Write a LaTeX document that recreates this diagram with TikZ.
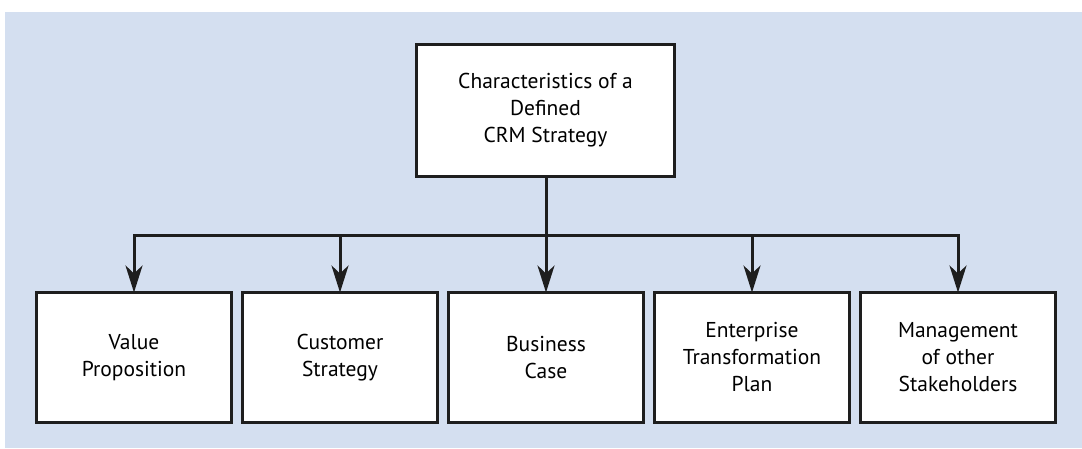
\documentclass[tikz,border=0pt]{standalone}
\usepackage{fontspec}
\setmainfont{PT Sans}
\usepackage{xcolor}
\definecolor{cpanel}{RGB}{212,223,240}
\definecolor{cline}{RGB}{30,30,30}
\usetikzlibrary{positioning, arrows.meta}
\tikzset{
x=1pt, y=-1pt,
node distance=11pt,
Box/.style={
	draw=cline, fill=white,
	line width=3pt,
	outer sep=0pt,
	align=center,
	font=\fontsize{21.5}{27}\selectfont
},
TopBox/.style={
	Box,
	minimum width=258pt,
	minimum height=132pt
},
Leaf/.style={
	Box,
	minimum width=195pt,
	minimum height=130pt
},
Edge/.style={
	draw=cline,
	line width=3pt
},
Arrow/.style={
	Edge,
	-{Stealth[length=27pt, width=17pt, inset=8pt]}
}
}

\begin{document}
\begin{tikzpicture}
	\useasboundingbox (0,0) rectangle (1082,448);
	\fill[cpanel] (5,12) rectangle (1082,448);

	\node[TopBox] (CRM) at (545.5,110.5) {Characteristics of a\\Defined\\CRM Strategy};

	\node[Leaf] (VP) at (134,357.5) {Value\\Proposition};
	\node[Leaf, right=of VP] (CS) {Customer\\Strategy};
	\node[Leaf, right=of CS] (BC) {Business\\Case};
	\node[Leaf, right=of BC] (ET) {Enterprise\\Transformation\\Plan};
	\node[Leaf, right=of ET] (MS) {Management\\of other\\Stakeholders};

	\coordinate (bus) at (BC.north |- 0,235);

	\draw[Edge] (CRM.south -| bus) -- (bus);
	\draw[Arrow] (bus) -| (VP.north);
	\draw[Arrow] (bus) -| (CS.north);
	\draw[Arrow] (bus) -- (BC.north);
	\draw[Arrow] (bus) -| (ET.north);
	\draw[Arrow] (bus) -| (MS.north);
\end{tikzpicture}
\end{document}
